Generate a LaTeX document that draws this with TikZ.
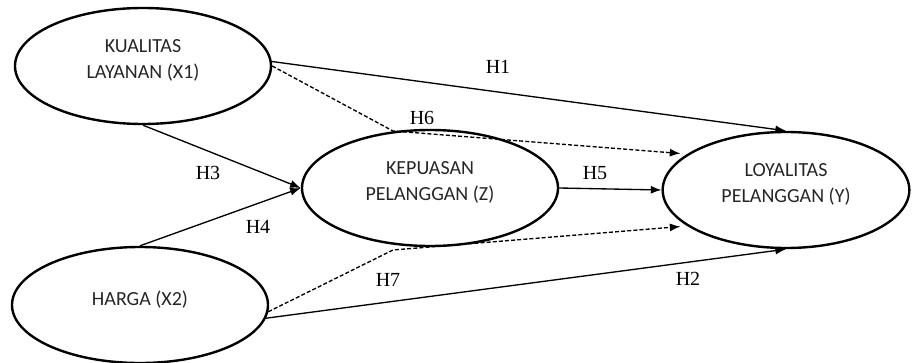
\documentclass[tikz,border=0pt]{standalone}
\usepackage{fontspec}
\setmainfont{Liberation Serif}
\newfontfamily\calibrifont{Carlito}
\usepackage{tikz}
\usetikzlibrary{arrows.meta,shapes.geometric}
\tikzset{
    construct-ellipse/.style = {draw=black, ellipse, line width=1.8pt, minimum width=192pt, minimum height=87pt, inner sep=0pt},
    construct-text/.style = {font=\calibrifont\fontsize{15}{19.5}\selectfont, text=black!85, align=center, yshift=4pt},
    hypo-path/.style = {line width=1pt, -{Latex[length=8pt,width=6pt]}},
    hypo-dashed/.style = {hypo-path, dash pattern=on 3pt off 1.6pt, shorten >=5pt},
    hypo-label/.style = {font=\fontsize{15}{18}\selectfont, inner sep=1pt},
}

\begin{document}
\begin{tikzpicture}[x=0.75pt, y=-0.75pt]
\useasboundingbox (0,0) rectangle (912,363);

% constructs
\node [construct-ellipse, label={[construct-text]center:{KUALITAS\\LAYANAN (X1)}}] (x1) at (143,66) {};
\node [construct-ellipse, label={[construct-text]center:{HARGA (X2)}}] (x2) at (140,305) {};
\node [construct-ellipse, label={[construct-text]center:{KEPUASAN\\PELANGGAN (Z)}}] (z) at (430,188) {};
\node [construct-ellipse, minimum width=185pt, label={[construct-text]center:{LOYALITAS\\PELANGGAN (Y)}}] (y) at (786,190) {};

% bends of the indirect paths
\coordinate (z-top) at (393,131);
\coordinate (z-bot) at (393,250);

% direct paths
\draw [hypo-path] (x1.2) -- (y.north);
\draw [hypo-path] (x2.-6) -- (y.south);
\draw [hypo-path] (x1.south) -- (z.west);
\draw [hypo-path] (x2.north) -- (z.west);
\draw [hypo-path] (z.east) -- (y.west);

% indirect paths
\draw [hypo-dashed] (x1.east) -- (z-top) -- (y.160);
\draw [hypo-dashed] (x2.-3) -- (z-bot) -- (y.200);

% hypotheses
\node [hypo-label] (h1) at (498,67) {H1};
\node [hypo-label] (h2) at (688,279) {H2};
\node [hypo-label] (h3) at (208,173) {H3};
\node [hypo-label] (h4) at (258,227) {H4};
\node [hypo-label] (h5) at (595,173) {H5};
\node [hypo-label] (h6) at (422,118) {H6};
\node [hypo-label] (h7) at (388,280) {H7};
\end{tikzpicture}
\end{document}
